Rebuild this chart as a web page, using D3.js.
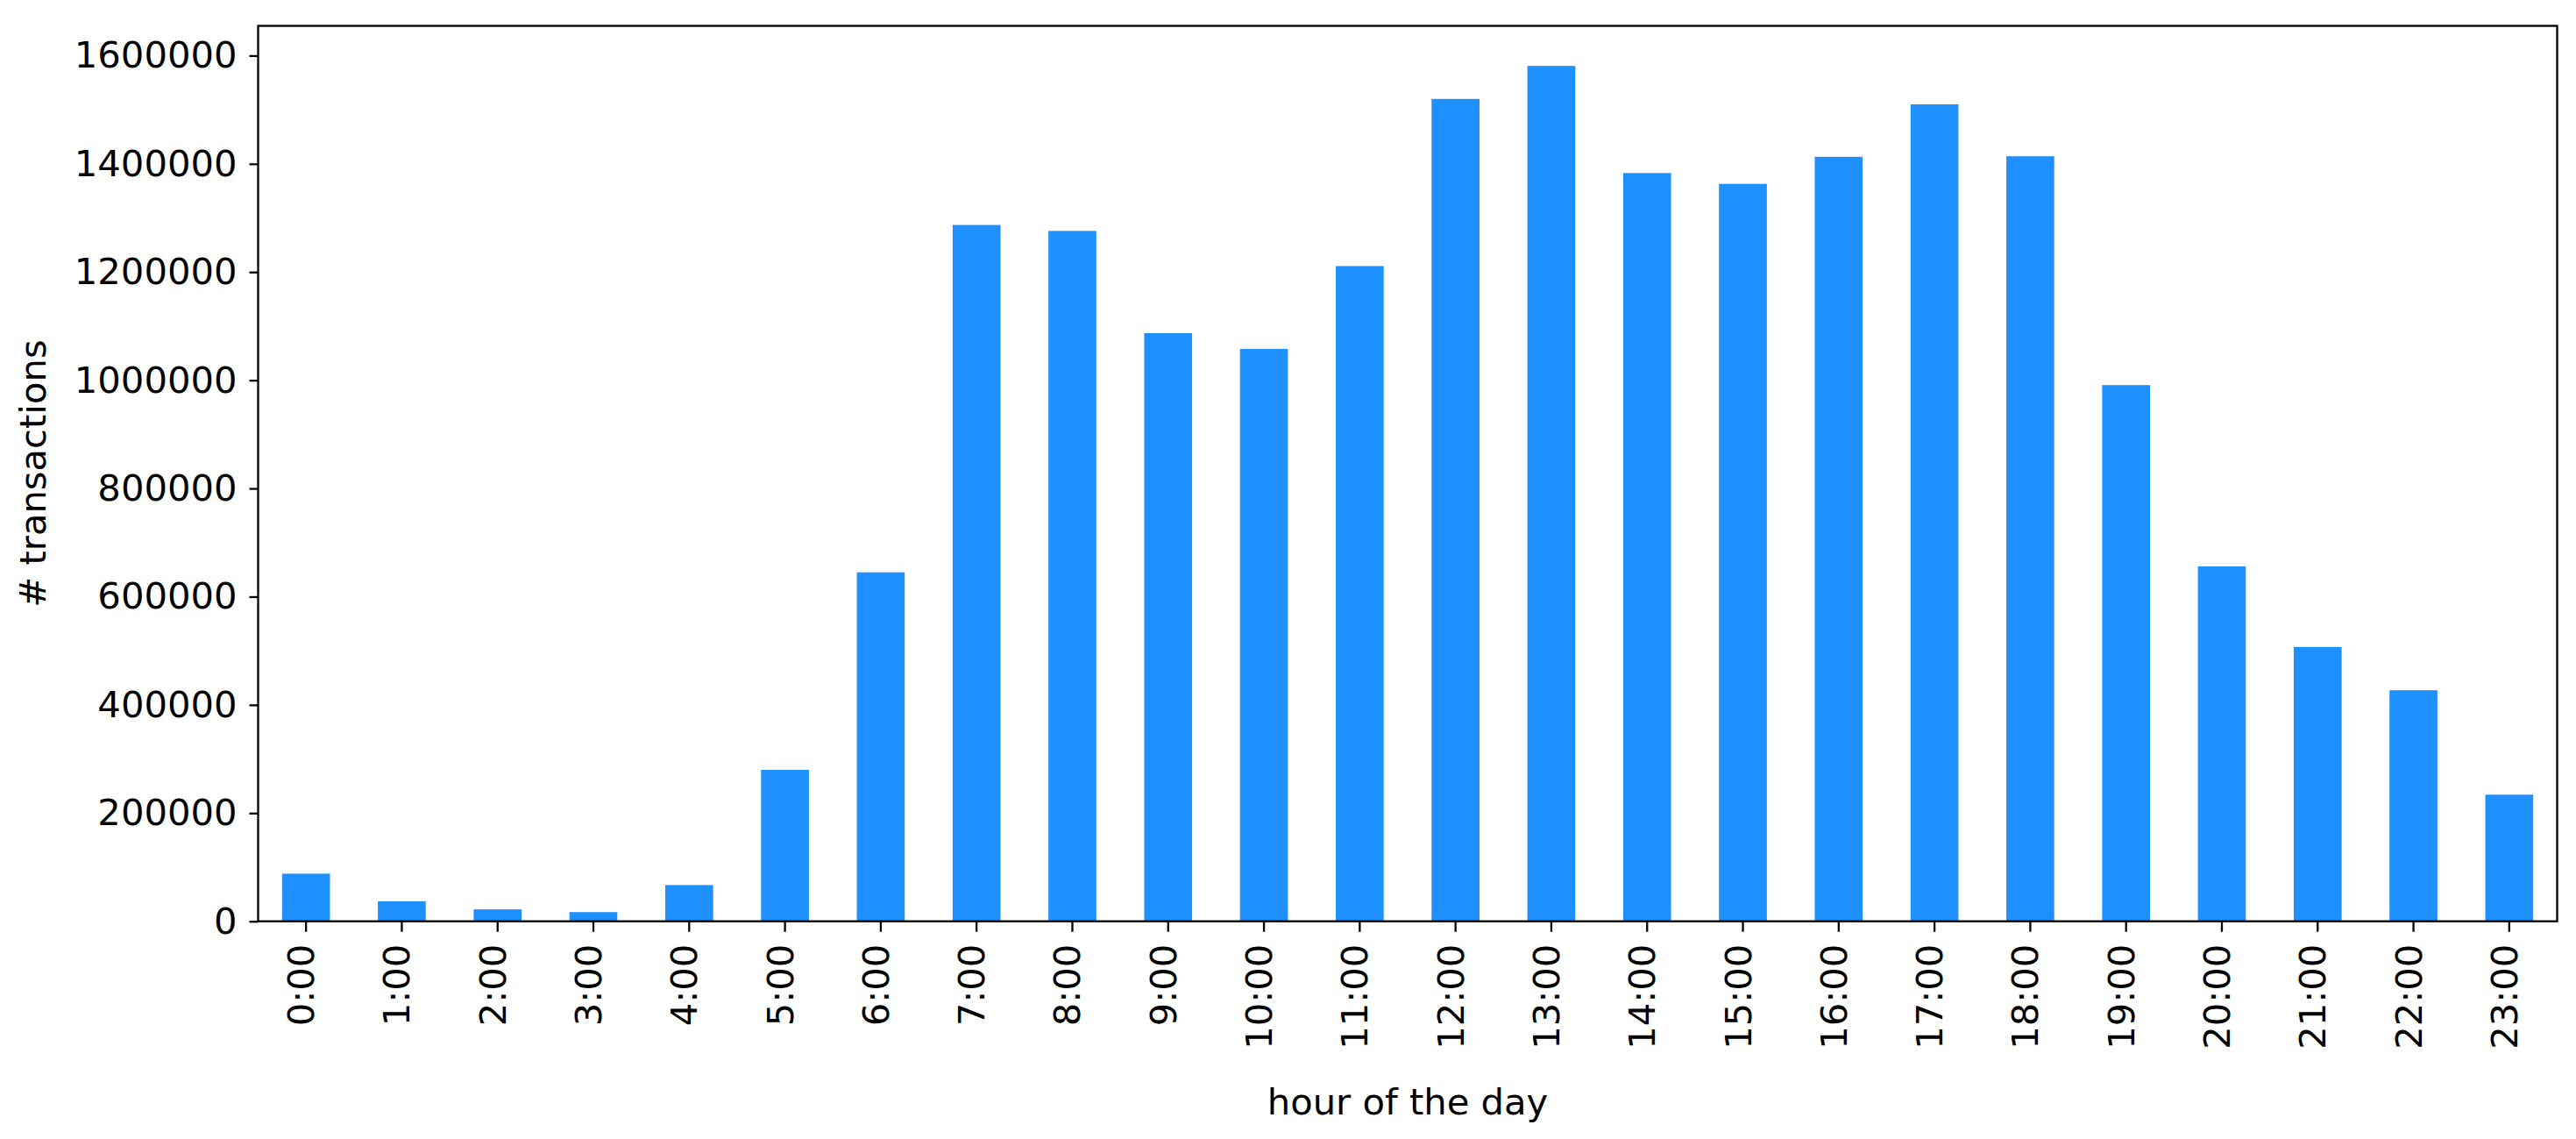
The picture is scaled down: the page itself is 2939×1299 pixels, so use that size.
<!DOCTYPE html>
<html>
<head>
<meta charset="utf-8">
<script src="https://cdn.jsdelivr.net/npm/d3@7"></script>
<style>
  body { margin: 0; background: #fff; overflow: hidden; }
  text { font-family: "DejaVu Sans", sans-serif; }
</style>
</head>
<body>
<div id="chart"></div>
<script>
// data
const hours = ["0:00", "1:00", "2:00", "3:00", "4:00", "5:00", "6:00", "7:00", "8:00", "9:00", "10:00", "11:00",
               "12:00", "13:00", "14:00", "15:00", "16:00", "17:00", "18:00", "19:00", "20:00", "21:00", "22:00", "23:00"];
const transactions = [88000, 37000, 22000, 17000, 67000, 280000, 645000, 1287000, 1276000, 1087000, 1058000, 1211000,
                      1520000, 1581000, 1383000, 1363000, 1413000, 1510000, 1414000, 991000, 656000, 507000, 427000, 234000];
const yTickValues = [0, 200000, 400000, 600000, 800000, 1000000, 1200000, 1400000, 1600000];
const yLimit = [0, 1655000];

const WIDTH = 2939, HEIGHT = 1299;
const margin = {top: 29.5, right: 21.5, bottom: 248.3, left: 294.5};
const FONT = 41.7;

let width = WIDTH - margin.left - margin.right,
    height = HEIGHT - margin.top - margin.bottom;

let svg = d3.select("#chart")
    .append("svg")
    .attr("width", WIDTH)
    .attr("height", HEIGHT)
    .append("g")
    .attr("transform", `translate(${margin.left}, ${margin.top})`);

// pandas style bars: width 0.5, half a step of space at both ends
let x = d3.scaleBand()
    .domain(hours)
    .range([0, width])
    .paddingInner(0.5)
    .paddingOuter(0.25);

let y = d3.scaleLinear()
    .domain(yLimit)
    .range([height, 0]);

svg.selectAll("rect.bar")
    .data(hours)
    .enter()
    .append("rect")
    .attr("class", "bar")
    .attr("fill", "#1e90ff")
    .attr("x", function(d) { return x(d); })
    .attr("y", function(d, i) { return y(transactions[i]); })
    .attr("width", x.bandwidth())
    .attr("height", function(d, i) { return y(0) - y(transactions[i]); });

// y axis
let yAxis = svg.append("g")
    .call(d3.axisLeft(y).tickValues(yTickValues).tickFormat(d3.format("d")).tickSize(10).tickPadding(14));

// x axis, labels turned to read upwards
let xAxis = svg.append("g")
    .attr("transform", `translate(0, ${height})`)
    .call(d3.axisBottom(x).tickSize(12).tickPadding(0));

xAxis.selectAll("text")
    .attr("x", null)
    .attr("y", null)
    .attr("dy", null)
    .attr("transform", "translate(9, 26) rotate(-90)")
    .style("text-anchor", "end");

[xAxis, yAxis].forEach(function(a) {
    a.select(".domain").remove();
    a.selectAll("line").attr("stroke", "#000").attr("stroke-width", 2.3);
    a.selectAll("text").attr("fill", "#000").style("font-size", FONT + "px");
});

// frame around the plot
svg.append("rect")
    .attr("x", 0)
    .attr("y", 0)
    .attr("width", width)
    .attr("height", height)
    .attr("fill", "none")
    .attr("stroke", "#000")
    .attr("stroke-width", 2.3);

// axis titles
svg.append("text")
    .attr("x", width / 2)
    .attr("y", 1271 - margin.top)
    .style("text-anchor", "middle")
    .style("font-size", FONT + "px")
    .text("hour of the day");

svg.append("text")
    .attr("transform", `translate(${52 - margin.left}, ${height / 2}) rotate(-90)`)
    .style("text-anchor", "middle")
    .style("font-size", FONT + "px")
    .text("# transactions");
</script>
</body>
</html>
